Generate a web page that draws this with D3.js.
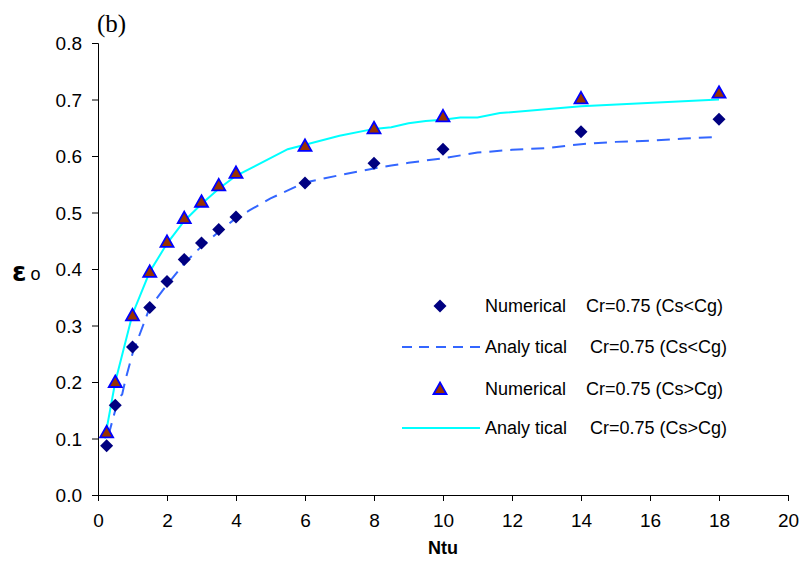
<!DOCTYPE html>
<html>
<head>
<meta charset="utf-8">
<script src="https://cdn.jsdelivr.net/npm/d3@7"></script>
<style>
  html, body { margin: 0; padding: 0; background: #fff; }
  svg text { font-family: "Liberation Sans", Arial, sans-serif; }
</style>
</head>
<body>
<div id="chart"></div>
<script>
// numerical points (Ntu)
const ntuNum = [0.25, 0.5, 1, 1.5, 2, 2.5, 3, 3.5, 4, 6, 8, 10, 14, 18];
const numLess = [0.087, 0.159, 0.262, 0.332, 0.378, 0.417, 0.446, 0.470, 0.492, 0.552, 0.587, 0.612, 0.643, 0.665];
const numGreater = [0.111, 0.200, 0.318, 0.395, 0.448, 0.490, 0.519, 0.548, 0.570, 0.618, 0.649, 0.670, 0.702, 0.712];

// analytical curves
const anaLessX = [0.3, 0.5, 0.6, 0.7, 0.8, 1, 1.5, 2, 2.5, 3, 3.5, 4, 4.4, 5, 6, 7, 8, 8.5, 9, 10, 11, 12, 13, 14, 15, 16, 17, 18];
const anaLessY = [0.105, 0.150, 0.172, 0.178, 0.205, 0.250, 0.332, 0.372, 0.410, 0.440, 0.466, 0.490, 0.504, 0.525, 0.553, 0.566, 0.578, 0.583, 0.588, 0.596, 0.606, 0.611, 0.614, 0.621, 0.625, 0.627, 0.631, 0.634];
const anaGreaterX = [0.2, 0.5, 1, 1.5, 2, 2.5, 3, 3.5, 4, 5.5, 6, 7, 8, 8.5, 9, 9.5, 10, 10.5, 11, 11.65, 14, 18];
const anaGreaterY = [0.100, 0.200, 0.320, 0.395, 0.445, 0.485, 0.515, 0.542, 0.565, 0.612, 0.620, 0.636, 0.648, 0.651, 0.658, 0.662, 0.664, 0.668, 0.668, 0.676, 0.688, 0.700];

const xTicks = [0, 2, 4, 6, 8, 10, 12, 14, 16, 18, 20];
const yTicks = [0, 0.1, 0.2, 0.3, 0.4, 0.5, 0.6, 0.7, 0.8];

const legendLabels = [
  ["Numerical", "Cr=0.75 (Cs<Cg)"],
  ["Analy tical", "Cr=0.75 (Cs<Cg)"],
  ["Numerical", "Cr=0.75 (Cs>Cg)"],
  ["Analy tical", "Cr=0.75 (Cs>Cg)"]
];

const width = 804, height = 569;
const plotLeft = 98, plotRight = 788, plotTop = 43, plotBottom = 495;

const svg = d3.select("#chart").append("svg")
  .attr("width", width).attr("height", height);

const x = d3.scaleLinear().domain([0, 20]).range([plotLeft, plotRight]);
const y = d3.scaleLinear().domain([0, 0.8]).range([plotBottom, plotTop]);

// axes
const yAxis = svg.append("g")
  .attr("transform", `translate(${plotLeft},0)`)
  .call(d3.axisLeft(y).tickValues(yTicks).tickSize(6).tickPadding(10)
    .tickFormat(d3.format(".1f")));
const xAxis = svg.append("g")
  .attr("transform", `translate(0,${plotBottom})`)
  .call(d3.axisBottom(x).tickValues(xTicks).tickSize(6).tickPadding(13));

[xAxis, yAxis].forEach((g) => {
  g.select(".domain").attr("stroke", "#000").attr("stroke-width", 1);
  g.selectAll(".tick line").attr("stroke", "#000");
  g.selectAll(".tick text")
    .attr("fill", "#000")
    .style("font-size", "19px")
    .style("font-family", "'Liberation Sans', Arial, sans-serif");
});
yAxis.selectAll(".tick text").attr("dy", "0.35em");

// lines
const line = d3.line().x((d) => x(d[0])).y((d) => y(d[1]));

svg.append("path")
  .datum(anaLessX.map((v, i) => [v, anaLessY[i]]))
  .attr("d", line)
  .attr("fill", "none")
  .attr("stroke", "#3366ff")
  .attr("stroke-width", 2)
  .attr("stroke-dasharray", "13,8");

svg.append("path")
  .datum(anaGreaterX.map((v, i) => [v, anaGreaterY[i]]))
  .attr("d", line)
  .attr("fill", "none")
  .attr("stroke", "#00ffff")
  .attr("stroke-width", 2);

// markers
const diamond = "M0,-6.5L6.5,0L0,6.5L-6.5,0Z";
const triangle = "M0,-6.5L6.5,5L-6.5,5Z";

svg.append("g").selectAll("path")
  .data(ntuNum.map((v, i) => [v, numLess[i]]))
  .join("path")
  .attr("d", diamond)
  .attr("transform", (d) => `translate(${x(d[0])},${y(d[1])})`)
  .attr("fill", "#000080");

svg.append("g").selectAll("path")
  .data(ntuNum.map((v, i) => [v, numGreater[i]]))
  .join("path")
  .attr("d", triangle)
  .attr("transform", (d) => `translate(${x(d[0])},${y(d[1])})`)
  .attr("fill", "#993300")
  .attr("stroke", "#0000ff")
  .attr("stroke-width", 1.8)
  .attr("stroke-linejoin", "miter");

// titles
svg.append("text")
  .attr("x", 97).attr("y", 32)
  .style("font-family", "'Liberation Serif', 'Times New Roman', serif")
  .style("font-size", "25px")
  .text("(b)");

svg.append("text")
  .attr("x", (plotLeft + plotRight) / 2).attr("y", 554)
  .attr("text-anchor", "middle")
  .style("font-size", "18px").style("font-weight", "bold")
  .text("Ntu");

const yl = svg.append("text").attr("x", 12).attr("y", 281);
yl.append("tspan")
  .style("font-size", "26px").style("font-weight", "bold")
  .style("font-family", "'DejaVu Sans', sans-serif")
  .text("ε");
yl.append("tspan")
  .attr("dx", 4).attr("dy", -1)
  .style("font-size", "18px")
  .text("o");

// legend
const rowY = [306, 347, 389, 428];
const leg = svg.append("g");
rowY.forEach((ry, i) => {
  if (i === 0) {
    leg.append("path").attr("d", diamond)
      .attr("transform", `translate(440,${ry})`).attr("fill", "#000080");
  } else if (i === 2) {
    leg.append("path").attr("d", triangle)
      .attr("transform", `translate(440,${ry})`)
      .attr("fill", "#993300").attr("stroke", "#0000ff").attr("stroke-width", 1.8);
  } else {
    leg.append("line")
      .attr("x1", 402).attr("x2", 480).attr("y1", ry).attr("y2", ry)
      .attr("stroke", i === 1 ? "#3366ff" : "#00ffff")
      .attr("stroke-width", 2)
      .attr("stroke-dasharray", i === 1 ? "10,7" : null);
  }
  leg.append("text")
    .attr("x", 485).attr("y", ry).attr("dy", "0.35em")
    .style("font-size", "18px")
    .text(legendLabels[i][0]);
  leg.append("text")
    .attr("x", i % 2 === 0 ? 586 : 590).attr("y", ry).attr("dy", "0.35em")
    .style("font-size", "18px")
    .text(legendLabels[i][1]);
});
</script>
</body>
</html>
